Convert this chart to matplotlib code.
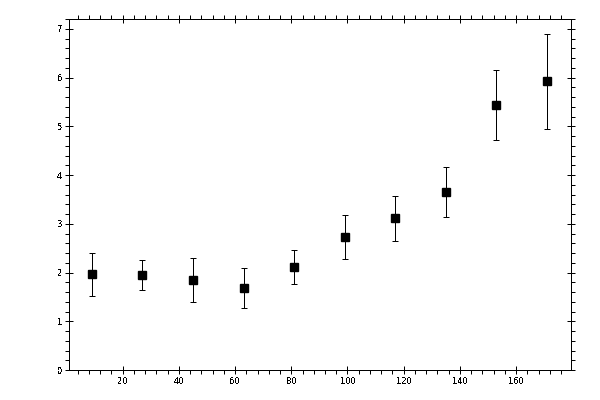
import matplotlib
matplotlib.use("Agg")
import matplotlib.pyplot as plt
from matplotlib.ticker import MultipleLocator

x = [9, 27, 45, 63, 81, 99, 117, 135, 153, 171]
y = [1.97, 1.95, 1.84, 1.68, 2.11, 2.73, 3.12, 3.65, 5.44, 5.93]
y_hi = [2.40, 2.25, 2.29, 2.09, 2.46, 3.18, 3.58, 4.16, 6.16, 6.89]
y_lo = [1.51, 1.64, 1.39, 1.27, 1.76, 2.27, 2.64, 3.14, 4.72, 4.95]

err_lo = [v - lo for v, lo in zip(y, y_lo)]
err_hi = [hi - v for v, hi in zip(y, y_hi)]

plt.rcParams["font.family"] = "DejaVu Sans"
plt.rcParams["text.antialiased"] = False

fig = plt.figure(figsize=(6, 4), dpi=100)
ax = fig.add_axes([0.1155, 0.075, 0.8355, 0.877])

ax.errorbar(x, y, yerr=[err_lo, err_hi], fmt="s", color="black",
            markersize=5.5, elinewidth=0.72, capsize=2, capthick=0.72,
            antialiased=False)

ax.set_xlim(1, 179.4)
ax.set_ylim(0, 7.2)
ax.xaxis.set_major_locator(MultipleLocator(20))
ax.xaxis.set_minor_locator(MultipleLocator(4))
ax.yaxis.set_major_locator(MultipleLocator(1))
ax.yaxis.set_minor_locator(MultipleLocator(0.2))

ax.tick_params(which="major", direction="inout", length=6, width=0.72,
               top=True, right=True, labelsize=6, pad=2)
ax.tick_params(which="minor", direction="out", length=3, width=0.72,
               top=True, right=True)
for s in ax.spines.values():
    s.set_linewidth(0.72)

fig.savefig("out.png", dpi=100)
